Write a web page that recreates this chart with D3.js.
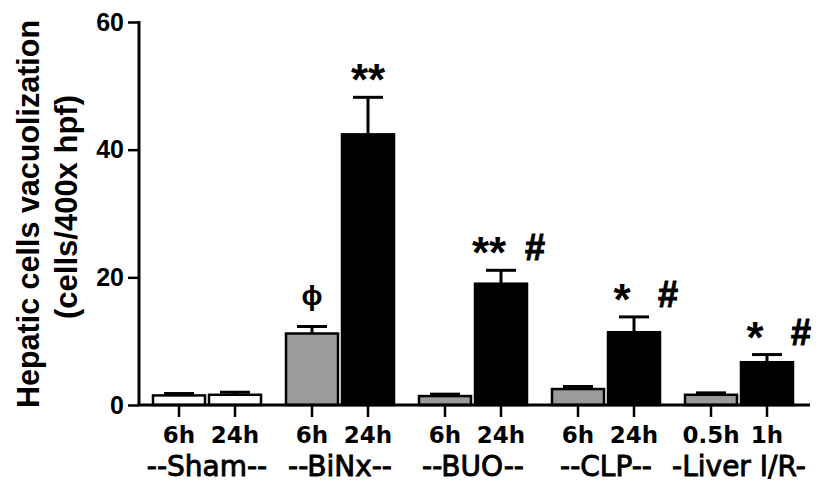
<!DOCTYPE html>
<html>
<head>
<meta charset="utf-8">
<script src="https://cdn.jsdelivr.net/npm/d3@7"></script>
<style>
  html, body { margin: 0; padding: 0; background: #fff; }
  svg { display: block; font-family: "Liberation Sans", Arial, Helvetica, sans-serif; }
</style>
</head>
<body>
<svg id="chart" width="819" height="482"></svg>
<script>
// ---- data ----
const groups = ["--Sham--", "--BiNx--", "--BUO--", "--CLP--", "-Liver I/R-"];
const timeLabels = [["6h", "24h"], ["6h", "24h"], ["6h", "24h"], ["6h", "24h"], ["0.5h", "1h"]];
const earlyMeans = [1.5, 11.2, 1.4, 2.5, 1.6];
const earlyErrors = [0.3, 1.1, 0.3, 0.4, 0.3];
const lateMeans = [1.6, 42.4, 19.0, 11.4, 6.7];
const lateErrors = [0.4, 5.8, 2.1, 2.4, 1.2];
const earlyFill = ["white", "gray", "gray", "gray", "gray"];
const lateFill = ["white", "black", "black", "black", "black"];
const yTicks = [0, 20, 40, 60];
const starMarks = ["", "**", "**", "*", "*"];
const hashMarks = ["", "", "#", "#", "#"];
const phiMark = ["", "\u03d5", "", "", ""];
const yTitle1 = "Hepatic cells vacuolization";
const yTitle2 = "(cells/400x hpf)";

// ---- build ----
const fills = { white: "#ffffff", gray: "#9b9b9b", black: "#000000" };
const bars = [];
groups.forEach((g, i) => {
  bars.push({ group: g, slot: 0, label: timeLabels[i][0], mean: earlyMeans[i], err: earlyErrors[i], fill: earlyFill[i] });
  bars.push({ group: g, slot: 1, label: timeLabels[i][1], mean: lateMeans[i], err: lateErrors[i], fill: lateFill[i] });
});

const svg = d3.select("#chart");
const axisX = 139, axisRight = 810, y0 = 405, yTop = 22;

const y = d3.scaleLinear().domain([0, 60]).range([y0, yTop]);
const x0 = d3.scaleBand().domain(groups).range([140.5, 805.5]).padding(0);
const x1 = d3.scaleBand().domain([0, 1]).range([12.5, 120.5]).paddingInner(4 / 56);
const cx = d => x0(d.group) + x1(d.slot) + x1.bandwidth() / 2;

// bars
svg.append("g").selectAll("rect").data(bars).join("rect")
  .attr("x", d => x0(d.group) + x1(d.slot))
  .attr("y", d => y(d.mean))
  .attr("width", x1.bandwidth())
  .attr("height", d => y(0) - y(d.mean))
  .attr("fill", d => fills[d.fill])
  .attr("stroke", "#000")
  .attr("stroke-width", 2.5);

// error bars
const eb = svg.append("g").attr("stroke", "#000").attr("stroke-width", 3);
eb.selectAll("line.v").data(bars).join("line").attr("class", "v")
  .attr("x1", cx).attr("x2", cx)
  .attr("y1", d => y(d.mean)).attr("y2", d => y(d.mean + d.err));
eb.selectAll("line.c").data(bars).join("line").attr("class", "c")
  .attr("x1", d => cx(d) - 15).attr("x2", d => cx(d) + 15)
  .attr("y1", d => y(d.mean + d.err)).attr("y2", d => y(d.mean + d.err));

// y axis
const yAxis = d3.axisLeft(y).tickValues(yTicks).tickSize(11).tickPadding(4);
const ya = svg.append("g").attr("transform", `translate(${axisX},0)`).call(yAxis);
ya.select(".domain").attr("stroke-width", 3).attr("d", `M0,${yTop - 1}V${y0}`);
ya.selectAll(".tick line").attr("stroke-width", 2.5);
ya.selectAll(".tick text").attr("font-size", 25).attr("font-weight", "bold").attr("fill", "#000")
  .attr("font-family", "Liberation Sans, Arial, sans-serif");

// x axis line
svg.append("line").attr("x1", axisX - 1.5).attr("x2", axisRight).attr("y1", y0).attr("y2", y0)
  .attr("stroke", "#000").attr("stroke-width", 3);
// x ticks
svg.append("g").selectAll("line").data(bars).join("line")
  .attr("x1", cx).attr("x2", cx).attr("y1", y0).attr("y2", y0 + 12)
  .attr("stroke", "#000").attr("stroke-width", 2.5);

// sub labels
svg.append("g").selectAll("text").data(bars).join("text")
  .attr("x", cx).attr("y", 443)
  .attr("text-anchor", "middle").attr("font-size", 23).attr("font-weight", "bold")
  .attr("font-family", "DejaVu Sans, sans-serif")
  .text(d => d.label);

// group labels
svg.append("g").selectAll("text").data(groups).join("text")
  .attr("x", g => x0(g) + x0.bandwidth() / 2).attr("y", 476)
  .attr("text-anchor", "middle").attr("font-size", 28)
  .attr("font-family", "DejaVu Sans, sans-serif")
  .attr("stroke", "#000").attr("stroke-width", 0.9)
  .text(g => g);

// annotations
const late = bars.filter(d => d.slot === 1);
const early = bars.filter(d => d.slot === 0);
svg.append("g").selectAll("text").data(late).join("text")
  .attr("x", (d, i) => cx(d) + (hashMarks[i] ? -12 : 0))
  .attr("y", d => y(d.mean + d.err) - 2)
  .attr("text-anchor", "middle").attr("font-size", 44).attr("font-weight", "bold")
  .text((d, i) => starMarks[i]);
svg.append("g").selectAll("text").data(late).join("text")
  .attr("x", d => cx(d) + 34)
  .attr("y", d => y(d.mean + d.err) - 10)
  .attr("text-anchor", "middle").attr("font-size", 36).attr("font-weight", "bold")
  .attr("stroke", "#000").attr("stroke-width", 1)
  .text((d, i) => hashMarks[i]);
svg.append("g").selectAll("text").data(early).join("text")
  .attr("x", cx)
  .attr("y", d => y(d.mean + d.err) - 21)
  .attr("text-anchor", "middle").attr("font-size", 28).attr("font-weight", "bold")
  .text((d, i) => phiMark[i]);

// y title
svg.append("text").attr("transform", "translate(39,214) rotate(-90)")
  .attr("text-anchor", "middle").attr("font-size", 30.5).attr("font-weight", "bold")
  .text(yTitle1);
svg.append("text").attr("transform", "translate(77,207) rotate(-90)")
  .attr("text-anchor", "middle").attr("font-size", 31).attr("font-weight", "bold")
  .text(yTitle2);
</script>
</body>
</html>
